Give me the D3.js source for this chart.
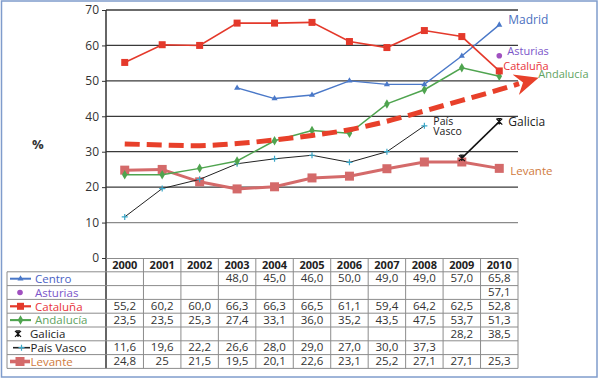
<!DOCTYPE html>
<meta charset="utf-8">
<script src="https://d3js.org/d3.v7.min.js"></script>
<style>
  body { margin: 0; background: #fff; }
  text { font-family: "Open Sans", sans-serif; }
</style>
<body>
<div id="canvas"></div>
<script>

  var years = [2000, 2001, 2002, 2003, 2004, 2005, 2006, 2007, 2008, 2009, 2010];
  var yTicks = [0, 10, 20, 30, 40, 50, 60, 70];

  var centro    = [null, null, null, 48.0, 45.0, 46.0, 50.0, 49.0, 49.0, 57.0, 65.8];
  var asturias  = [null, null, null, null, null, null, null, null, null, null, 57.1];
  var cataluna  = [55.2, 60.2, 60.0, 66.3, 66.3, 66.5, 61.1, 59.4, 64.2, 62.5, 52.8];
  var andalucia = [23.5, 23.5, 25.3, 27.4, 33.1, 36.0, 35.2, 43.5, 47.5, 53.7, 51.3];
  var galicia   = [null, null, null, null, null, null, null, null, null, 28.2, 38.5];
  var paisVasco = [11.6, 19.6, 22.2, 26.6, 28.0, 29.0, 27.0, 30.0, 37.3, null, null];
  var levante   = [24.8, 25, 21.5, 19.5, 20.1, 22.6, 23.1, 25.2, 27.1, 27.1, 25.3];
  // the table prints 2001 of Levante as "25"
  var levanteText = ["24,8", "25", "21,5", "19,5", "20,1", "22,6", "23,1", "25,2", "27,1", "27,1", "25,3"];

  // dashed trend arrow (read by eye)
  var trendYears  = [2000, 2001, 2002, 2003, 2004, 2005, 2006, 2007, 2008, 2009, 2010, 2010.53];
  var trendValues = [32.2, 31.9, 31.7, 32.3, 33.3, 34.6, 36.2, 38.6, 41.5, 44.5, 47.5, 49.2];

  var width = 600, height = 381;
  var pLeft = 106, pRight = 518, pTop = 10, pBottom = 258;
  var rowH = 13.8;

  var svg = d3.select("#canvas").append("svg")
      .attr("width", width).attr("height", height);

  var band = d3.scaleBand().domain(years).range([pLeft, pRight]);
  var x = d3.scaleLinear().domain([2000, 2010])
      .range([pLeft + band.bandwidth() / 2, pRight - band.bandwidth() / 2]);
  var y = d3.scaleLinear().domain([0, 70]).range([pBottom, pTop]);

  // outer frame
  svg.append("rect").attr("x", 1.5).attr("y", 1).attr("width", 595.5).attr("height", 376)
      .attr("fill", "none").attr("stroke", "#7f9ccc").attr("stroke-width", 1.5);

  // grid lines
  svg.selectAll(".grid").data(yTicks.filter(function(d){ return d > 0; }))
    .enter().append("line")
      .attr("x1", pLeft).attr("x2", pRight)
      .attr("y1", function(d){ return y(d); }).attr("y2", function(d){ return y(d); })
      .attr("stroke", function(d){ return d == 10 ? "#8a8a8a" : "#3a3a3a"; })
      .attr("stroke-width", 1.3);

  // y axis
  var yAxis = svg.append("g").attr("transform", "translate(" + pLeft + ",0)")
      .call(d3.axisLeft(y).tickValues(yTicks).tickSize(4).tickPadding(3));
  yAxis.select(".domain").remove();
  yAxis.selectAll("line").attr("stroke", "#333");
  yAxis.selectAll("text").attr("font-size", 12).attr("fill", "#333")
      .attr("font-family", "'Open Sans', sans-serif");
  svg.append("line").attr("x1", pLeft).attr("x2", pLeft).attr("y1", pTop).attr("y2", pBottom + rowH * 8)
      .attr("stroke", "#333").attr("stroke-width", 1.5);

  svg.append("text").attr("x", 32).attr("y", 149).attr("font-size", 13).attr("font-weight", "bold")
      .attr("fill", "#333").text("%");

  // ---- table ----
  var fmt = function(v){ return v == null ? "" : d3.format(".1f")(v).replace(".", ","); };
  var rows = [
    { name: "Centro", vals: centro, color: "#4b62c4", key: "centro" },
    { name: "Asturias", vals: asturias, color: "#7b55c9", key: "asturias" },
    { name: "Cataluña", vals: cataluna, color: "#e8333a", key: "cataluna" },
    { name: "Andalucía", vals: andalucia, color: "#5fa35f", key: "andalucia" },
    { name: "Galicia", vals: galicia, color: "#222", key: "galicia" },
    { name: "País Vasco", vals: paisVasco, color: "#222", key: "pais" },
    { name: "Levante", vals: levante, color: "#d07a3c", key: "levante", text: levanteText }
  ];
  var tableLeft = 7;
  var rowY = function(i){ return pBottom + rowH * (i + 1); };
  var grid = "#8c8c8c";

  // header top line + horizontal rules
  svg.append("line").attr("x1", pLeft).attr("x2", pRight).attr("y1", pBottom + 0.5).attr("y2", pBottom + 0.5)
      .attr("stroke", grid);
  svg.selectAll(".hrule").data(d3.range(rows.length + 1)).enter().append("line")
      .attr("x1", tableLeft).attr("x2", pRight)
      .attr("y1", function(i){ return rowY(i); }).attr("y2", function(i){ return rowY(i); })
      .attr("stroke", grid);
  svg.append("line").attr("x1", tableLeft).attr("x2", tableLeft).attr("y1", rowY(0)).attr("y2", rowY(rows.length))
      .attr("stroke", grid);
  svg.selectAll(".vrule").data(years).enter().append("line")
      .attr("x1", function(d){ return band(d) + band.bandwidth(); })
      .attr("x2", function(d){ return band(d) + band.bandwidth(); })
      .attr("y1", pBottom).attr("y2", rowY(rows.length))
      .attr("stroke", grid);

  svg.selectAll(".yr").data(years).enter().append("text")
      .attr("x", function(d){ return x(d); }).attr("y", pBottom + 10.5)
      .attr("text-anchor", "middle").attr("font-size", 11).attr("font-weight", "bold")
      .attr("fill", "#222").text(function(d){ return d; });

  rows.forEach(function(r, i){
    svg.selectAll(".cell" + i).data(years).enter().append("text")
      .attr("x", function(d){ return x(d); }).attr("y", rowY(i) + 10.5)
      .attr("text-anchor", "middle").attr("font-size", 11.5).attr("fill", "#333")
      .text(function(d, j){ return r.text ? r.text[j] : fmt(r.vals[j]); });
  });

  // ---- marker shapes ----
  function marker(g, type, cx, cy, color) {
    if (type == "centro") {
      g.append("path").attr("d", d3.symbol(d3.symbolTriangle, 16)())
        .attr("transform", "translate(" + cx + "," + cy + ")").attr("fill", color);
    } else if (type == "asturias") {
      g.append("circle").attr("cx", cx).attr("cy", cy).attr("r", 2.8).attr("fill", color);
    } else if (type == "cataluna") {
      g.append("rect").attr("x", cx - 3.5).attr("y", cy - 3.5).attr("width", 7).attr("height", 7).attr("fill", color);
    } else if (type == "andalucia") {
      g.append("path").attr("d", d3.symbol(d3.symbolDiamond, 26)())
        .attr("transform", "translate(" + cx + "," + cy + ")").attr("fill", color);
    } else if (type == "galicia") {
      g.append("path").attr("d", "M-3,-3L3,3M-3,3L3,-3M-2,-3L2,-3M0,-3L0,3")
        .attr("transform", "translate(" + cx + "," + cy + ")").attr("stroke", color).attr("stroke-width", 1.3).attr("fill", "none");
    } else if (type == "pais") {
      g.append("path").attr("d", "M-3,0L3,0M0,-3L0,3")
        .attr("transform", "translate(" + cx + "," + cy + ")").attr("stroke", color).attr("stroke-width", 1.2);
    } else if (type == "levante") {
      g.append("rect").attr("x", cx - 4.5).attr("y", cy - 4.5).attr("width", 9).attr("height", 9).attr("fill", color);
    }
  }

  var styles = {
    centro:    { line: "#4a78c8", w: 1.4, mark: "#4a78c8" },
    asturias:  { line: "none", w: 0, mark: "#a050c0" },
    cataluna:  { line: "#e4392b", w: 1.6, mark: "#e4392b" },
    andalucia: { line: "#4fa44f", w: 1.5, mark: "#4fa44f" },
    galicia:   { line: "#111", w: 1.5, mark: "#111" },
    pais:      { line: "#222", w: 1, mark: "#3aa7c8" },
    levante:   { line: "#d46a6a", w: 3, mark: "#d46a6a" }
  };

  // legend swatches in table
  rows.forEach(function(r, i){
    var s = styles[r.key], cy = rowY(i) + rowH / 2, g = svg.append("g");
    var tx = 35;
    if (r.key == "galicia") { marker(g, "galicia", 18, cy, "#111"); tx = 30; }
    else if (r.key == "asturias") { marker(g, "asturias", 20, cy, s.mark); }
    else {
      var x0 = r.key == "pais" ? 13 : 10, x1 = r.key == "levante" || r.key == "pais" ? 30 : 31;
      if (r.key == "pais" || r.key == "levante") tx = 30.5;
      g.append("line").attr("x1", x0).attr("x2", x1).attr("y1", cy).attr("y2", cy)
        .attr("stroke", s.line).attr("stroke-width", s.w + 0.6);
      marker(g, r.key, (x0 + x1) / 2, cy, s.mark);
    }
    svg.append("text").attr("x", tx).attr("y", cy + 4.2).attr("font-size", 11.5)
      .attr("fill", r.color).text(r.name);
  });

  // ---- series ----
  var line = d3.line().defined(function(d){ return d[1] != null; })
      .x(function(d){ return x(d[0]); }).y(function(d){ return y(d[1]); });

  var order = ["levante", "pais", "andalucia", "centro", "cataluna", "galicia", "asturias"];
  order.forEach(function(k){
    var r = rows.filter(function(d){ return d.key == k; })[0], s = styles[k];
    var pts = years.map(function(yr, j){ return [yr, r.vals[j]]; });
    if (s.line != "none") {
      svg.append("path").datum(pts).attr("d", line).attr("fill", "none")
        .attr("stroke", s.line).attr("stroke-width", s.w);
    }
    var g = svg.append("g");
    pts.filter(function(p){ return p[1] != null; }).forEach(function(p){
      marker(g, k, x(p[0]), y(p[1]), s.mark);
    });
  });

  // trend arrow
  svg.append("defs").append("marker").attr("id", "head")
      .attr("viewBox", "0 0 10 10").attr("refX", 1.5).attr("refY", 5)
      .attr("markerWidth", 24).attr("markerHeight", 24).attr("markerUnits", "userSpaceOnUse")
      .attr("orient", "auto")
    .append("path").attr("d", "M0,0.5L10,5L0,9.5L3.2,5Z").attr("fill", "#e8402a");
  var trend = trendYears.map(function(yr, j){ return [yr, trendValues[j]]; });
  svg.append("path").datum(trend)
      .attr("d", d3.line().curve(d3.curveMonotoneX).x(function(d){ return x(d[0]); }).y(function(d){ return y(d[1]); }))
      .attr("fill", "none").attr("stroke", "#e8402a").attr("stroke-width", 5)
      .attr("stroke-dasharray", "15,7").attr("marker-end", "url(#head)");

  // series labels
  var labels = [
    { t: "Madrid", yr: 2010, v: 65.8, dx: 9, dy: -1, c: "#4a70c0", s: 12 },
    { t: "Asturias", yr: 2010, v: 57.1, dx: 8, dy: -1, c: "#7b55c9", s: 11 },
    { t: "Cataluña", yr: 2010, v: 52.8, dx: 4, dy: -1, c: "#e8333a", s: 11 },
    { t: "Andalucía", yr: 2010, v: 51.3, dx: 39, dy: 2, c: "#5fa35f", s: 11 },
    { t: "Galicia", yr: 2010, v: 38.5, dx: 9, dy: 4, c: "#222", s: 12 },
    { t: "Levante", yr: 2010, v: 25.3, dx: 11, dy: 7, c: "#d07a3c", s: 11.5 },
    { t: "País", yr: 2008, v: 37.3, dx: 9, dy: -1, c: "#222", s: 10.5 },
    { t: "Vasco", yr: 2008, v: 37.3, dx: 9, dy: 9.5, c: "#222", s: 10.5 }
  ];
  svg.selectAll(".lab").data(labels).enter().append("text")
      .attr("x", function(d){ return x(d.yr) + d.dx; })
      .attr("y", function(d){ return y(d.v) + d.dy; })
      .attr("font-size", function(d){ return d.s; })
      .attr("fill", function(d){ return d.c; })
      .text(function(d){ return d.t; });

</script>
</body>
